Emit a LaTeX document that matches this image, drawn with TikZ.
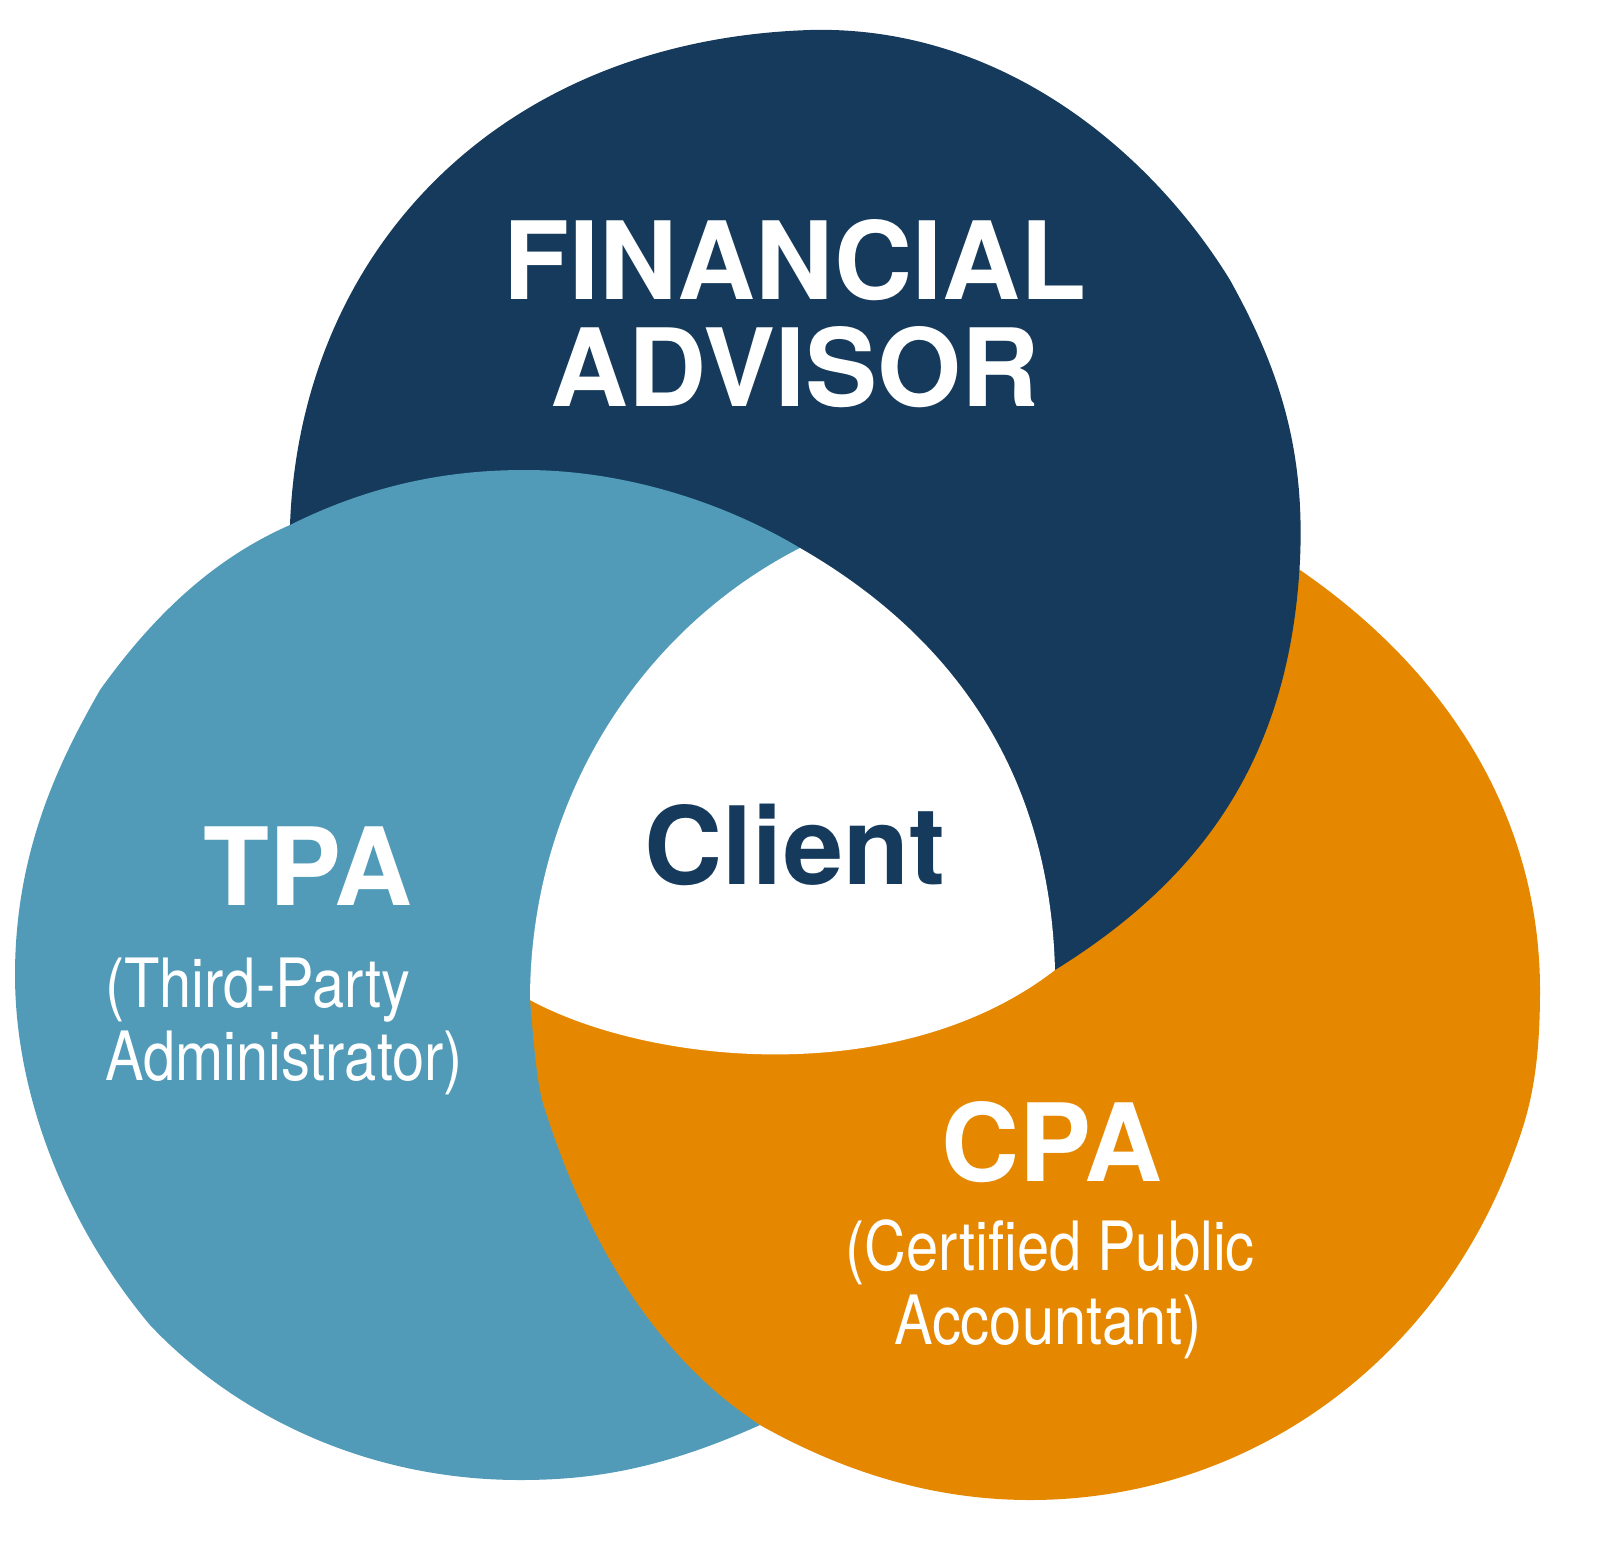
\documentclass[tikz,border=0pt]{standalone}
\usepackage{fontspec}
\setmainfont{TeX Gyre Heros}
\newfontfamily\condf[FakeStretch=0.85]{TeX Gyre Heros}
\definecolor{navy}{HTML}{153A5C}
\definecolor{lblue}{HTML}{519BB9}
\definecolor{orng}{HTML}{E58800}
\begin{document}
\begin{tikzpicture}[x=1pt,y=-1pt,
  big/.style={font=\fontsize{108}{108}\selectfont\bfseries,text=white,inner sep=0pt},
  small/.style={font=\condf\fontsize{68}{74}\selectfont,text=white,inner sep=0pt}]
\useasboundingbox (0,0) rectangle (1598,1566);
% orange
\fill[orng] (1240,520) -- (1300,570) .. controls (1460,680) and (1540,830) .. (1540,990)
  .. controls (1540,1070) and (1530,1110) .. (1515,1150)
  .. controls (1440,1360) and (1250,1500) .. (1030,1500)
  .. controls (930,1500) and (840,1470) .. (760,1425) -- (450,1250) -- (450,1000) -- (530,1000) -- cycle;
% navy
\fill[navy] (290,525) .. controls (300,250) and (500,40) .. (810,30)
  .. controls (1000,25) and (1150,150) .. (1230,280)
  .. controls (1280,370) and (1305,450) .. (1300,560)
  .. controls (1290,760) and (1200,880) .. (1055,970) -- (800,548) -- cycle;
% blue
\fill[lblue] (290,525) .. controls (380,480) and (460,470) .. (525,470)
  .. controls (620,470) and (720,500) .. (800,548) -- (530,1000)
  .. controls (535,1060) and (538,1090) .. (545,1110)
  .. controls (590,1250) and (660,1360) .. (760,1425)
  .. controls (660,1470) and (590,1480) .. (520,1480)
  .. controls (360,1480) and (230,1410) .. (150,1325)
  .. controls (70,1230) and (15,1100) .. (15,975)
  .. controls (15,850) and (60,760) .. (100,690)
  .. controls (150,620) and (210,560) .. (290,525) -- cycle;
% white
\fill[white] (800,548) .. controls (640,630) and (530,800) .. (530,1000)
  .. controls (650,1065) and (900,1090) .. (1055,970)
  .. controls (1050,780) and (960,640) .. (800,548) -- cycle;
\node[big] (fa1) at (795,260) {FINANCIAL};
\node[big] (fa2) at (795,367) {ADVISOR};
\node[big,text=navy] (cl) at (795,845) {Client};
\node[big] (tpa) at (308,866) {TPA};
\node[small,anchor=west] (t1) at (105,990) {(Third-Party};
\node[small,anchor=west] (t2) at (105,1063) {Administrator)};
\node[big] (cpa) at (1052,1142) {CPA};
\node[small] (c1) at (1050,1252) {(Certified Public};
\node[small] (c2) at (1048,1327) {Accountant)};
\end{tikzpicture}
\end{document}
